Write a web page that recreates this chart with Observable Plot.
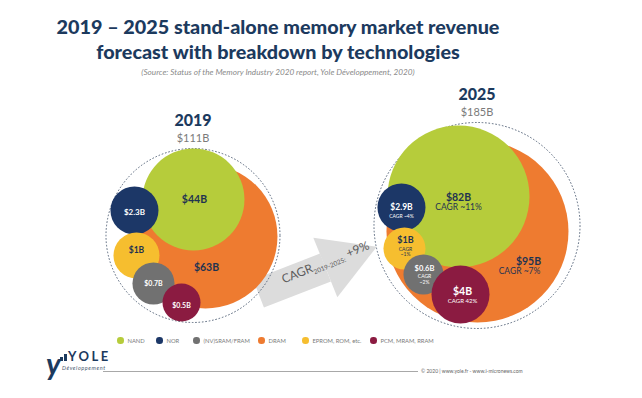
<!DOCTYPE html>
<html>
<head>
<meta charset="utf-8">
<script src="https://cdn.jsdelivr.net/npm/d3@7"></script>
<script src="https://cdn.jsdelivr.net/npm/@observablehq/plot@0.6"></script>
<style>
  body { margin: 0; background: #fff; font-family: Lato, "Open Sans", sans-serif; }
  #page { position: relative; width: 642px; height: 398px; overflow: hidden; background: #fff; }
  #title { position: absolute; left: 0; top: 14px; width: 556px; text-align: center; color: #1c3a5e;
           font-weight: 900; font-size: 19.8px; line-height: 25px; }
  #sub { position: absolute; left: 0; top: 67px; width: 556px; text-align: center; font-style: italic;
         font-size: 8.2px; color: #8a8a8a; }
  #chart { position: absolute; left: 0; top: 80px; }
  #legend { position: absolute; left: 117px; top: 337px; display: flex; align-items: center; }
  #legend .item { display: flex; align-items: center; font-size: 5.8px; color: #7a7a7a; white-space: nowrap; }
  #legend .dot { width: 6.5px; height: 6.5px; border-radius: 50%; margin-right: 4px; flex: none; }
  #logo { position: absolute; left: 44px; top: 346px; width: 70px; height: 42px; color: #1c3a5e; }
  #logo .y { position: absolute; left: 2px; top: 2px; font-size: 30px; font-style: italic; font-weight: 700; line-height: 30px; }
  #logo .bars { position: absolute; left: 16px; top: 8px; display: flex; align-items: flex-end; gap: 1.5px; }
  #logo .bars span { display: block; width: 2.5px; background: #1c3a5e; }
  #logo .name { position: absolute; left: 24px; top: 4px; font-size: 13px; font-weight: 700; letter-spacing: 2.5px; line-height: 13px; }
  #logo .dev { position: absolute; left: 18px; top: 19px; font-size: 5.5px; font-style: italic; letter-spacing: 0.6px; color: #4a5a70; }
  #rule { position: absolute; left: 103px; top: 371px; width: 315px; border-top: 1px solid #a8a8a8; }
  #copy { position: absolute; left: 421px; top: 368px; font-size: 5px; color: #666; white-space: nowrap; }
</style>
</head>
<body>
<div id="page">
  <div id="title">2019 – 2025 stand-alone memory market revenue<br>forecast with breakdown by technologies</div>
  <div id="sub">(Source: Status of the Memory Industry 2020 report, Yole Développement, 2020)</div>
  <div id="chart"></div>
  <div id="legend"></div>
  <div id="logo">
    <div class="y">y</div>
    <div class="bars"><span style="height:4px"></span><span style="height:7px"></span></div>
    <div class="name">YOLE</div>
    <div class="dev">Développement</div>
  </div>
  <div id="rule"></div>
  <div id="copy">© 2020 | www.yole.fr - www.i-micronews.com</div>
</div>
<script>
// ---------------- DATA ----------------
const years = ["2019", "2025"];
const totals = ["$111B", "$185B"];
// drawing order (back to front)
const technologies = ["DRAM", "NAND", "NOR", "EPROM, ROM, etc.", "(NV)SRAM/FRAM", "PCM, MRAM, RRAM"];
const revenue2019 = [63, 44, 2.3, 1, 0.7, 0.5];
const revenue2025 = [95, 82, 2.9, 1, 0.6, 4];
const cagr2025 = ["~7%", "~11%", "~4%", "~1%", "~2%", "42%"];
const overallCagrPeriod = "2019-2025:";
const overallCagr = "+9%";
// legend order
const legendOrder = ["NAND", "NOR", "(NV)SRAM/FRAM", "DRAM", "EPROM, ROM, etc.", "PCM, MRAM, RRAM"];

// ---------------- STYLE / LAYOUT (diagram units) ----------------
const legendColors = ["#b6cc3b", "#1c3767", "#717171", "#ee7b30", "#f6be2f", "#8b1b41"];
const darkText = ["DRAM", "NAND", "EPROM, ROM, etc."];
const S = 4.35;              // px per diagram unit
const W = 642, H = 255;
const groupCenter = [[44.25, 35.63], [109.54, 33.33]];
const groupRadius = [20, 23.68];
const bubbleOffset = [
  [[2.87, 0.23], [0.11, -8.28], [-13.45, -5.75], [-12.99, 4.60], [-9.08, 11.03], [-2.64, 15.40]],
  [[0.11, 1.38], [-4.25, -6.67], [-17.36, -4.14], [-16.67, 5.29], [-12.30, 11.26], [-3.79, 15.86]]
];
const bubbleSize = [
  [16.55, 11.72, 5.52, 5.29, 4.83, 4.37],
  [20.92, 16.32, 5.52, 4.83, 4.60, 6.67]
];
const labelOffset = [
  [[3.10, 7.36], [0.34, -8.28], [-13.45, -5.29], [-12.99, 3.45], [-9.08, 11.03], [-2.64, 16.09]],
  [[11.84, 8.28], [-4.25, -6.44], [-17.36, -4.14], [-16.44, 3.45], [-12.07, 9.89], [-3.33, 15.17]]
];
const labelFont = [
  [10.5, 10.5, 8, 8.5, 7, 7],
  [10.5, 10.5, 8.5, 9, 7.5, 10.5]
];
const cagrOffset = [[9.77, 9.54], [-4.25, -5.17], [-17.36, -2.76], [-16.44, 4.83], [-12.07, 11.15], [-3.33, 16.78]];
const cagrFont = [8.5, 8.5, 5, 5, 5, 6];
const cagrWrap = [false, false, false, true, true, false];
const arrowStart = [59.31, 48.97];
const arrowHeadBase = [74.71, 42.99];
const arrowHead = [78.62, 41.38];
const arrowHeadSize = 5.47;
const arrowAngle = -22;
const arrowLabelPos = [74.71, 41.84];

// ---------------- BUILD ROWS ----------------
const rows = [];
years.forEach((yr, g) => {
  const vals = g === 0 ? revenue2019 : revenue2025;
  const [gx, gy] = groupCenter[g];
  technologies.forEach((t, i) => {
    rows.push({
      year: yr, tech: t, value: vals[i],
      x: gx + bubbleOffset[g][i][0], y: gy + bubbleOffset[g][i][1], size: bubbleSize[g][i],
      lx: gx + labelOffset[g][i][0], ly: gy + labelOffset[g][i][1], lf: labelFont[g][i],
      cagr: g === 1 ? cagr2025[i] : null,
      cx: gx + cagrOffset[i][0], cy: gy + cagrOffset[i][1], cf: cagrFont[i],
      wrap: cagrWrap[i]
    });
  });
});
const groups = years.map((yr, g) => ({year: yr, total: totals[g], x: groupCenter[g][0], y: groupCenter[g][1], size: groupRadius[g]}));
const label = d => "$" + d.value + "B";

const chart = Plot.plot({
  width: W, height: H, margin: 0,
  style: {fontFamily: "Lato, 'Open Sans', sans-serif", background: "transparent", overflow: "visible"},
  x: {domain: [0, W / S], axis: null},
  y: {domain: [0, H / S], reverse: true, axis: null},
  r: {type: "linear", domain: [0, 1], range: [0, S]},
  color: {domain: legendOrder, range: legendColors},
  marks: [
    Plot.link([0], {x1: () => arrowStart[0], y1: () => arrowStart[1], x2: () => arrowHeadBase[0], y2: () => arrowHeadBase[1],
      stroke: "#dcdcdc", strokeWidth: 30, strokeLinecap: "butt"}),
    Plot.dot([0], {x: () => arrowHead[0], y: () => arrowHead[1], r: () => arrowHeadSize, symbol: "triangle",
      rotate: 90 + arrowAngle, fill: "#dcdcdc", stroke: "none"}),
    Plot.text([0], {x: () => arrowLabelPos[0], y: () => arrowLabelPos[1], text: () => "CAGR", rotate: arrowAngle,
      fontSize: 12, fill: "#5a5a5a", textAnchor: "middle"}),
    Plot.dot(groups, {x: "x", y: "y", r: "size", fill: "none", stroke: "#56657a", strokeWidth: 1, strokeDasharray: "1.6,1.8", sort: null}),
    Plot.dot(rows, {x: "x", y: "y", r: "size", fill: "tech", sort: null}),
    Plot.text(rows.filter(d => darkText.includes(d.tech)), {x: "lx", y: "ly", text: label, fontWeight: "bold", fontSize: d => d.lf, fill: "#1f3350"}),
    Plot.text(rows.filter(d => !darkText.includes(d.tech)), {x: "lx", y: "ly", text: label, fontWeight: "bold", fontSize: d => d.lf, fill: "#ffffff"}),
    Plot.text(rows.filter(d => d.cagr && darkText.includes(d.tech)), {x: "cx", y: "cy", text: d => "CAGR" + (d.wrap ? "\n" : " ") + d.cagr,
      lineAnchor: "top", lineHeight: 1.15, fontSize: d => d.cf, fill: "#1f3350"}),
    Plot.text(rows.filter(d => d.cagr && !darkText.includes(d.tech)), {x: "cx", y: "cy", text: d => "CAGR" + (d.wrap ? "\n" : " ") + d.cagr,
      lineAnchor: "top", lineHeight: 1.15, fontSize: d => d.cf, fill: "#ffffff"}),
    Plot.text(groups, {x: "x", y: d => d.y - d.size, text: "year", dy: -28, fontSize: 16, fontWeight: 900, fill: "#1c3a5e"}),
    Plot.text(groups, {x: "x", y: d => d.y - d.size, text: "total", dy: -10, fontSize: 11, fill: "#7a7a7a"})
  ]
});
document.getElementById("chart").appendChild(chart);

// rich arrow label: CAGR with subscript period
const ns = "http://www.w3.org/2000/svg";
const arrowText = Array.from(chart.querySelectorAll("text")).find(t => t.textContent === "CAGR");
if (arrowText) {
  arrowText.textContent = "";
  const parts = [["CAGR", 12, 0], [overallCagrPeriod, 6.5, 3], [" " + overallCagr, 12, -3]];
  parts.forEach(([s, fs, dy]) => {
    const ts = document.createElementNS(ns, "tspan");
    ts.textContent = s;
    ts.setAttribute("font-size", fs);
    if (dy) ts.setAttribute("dy", dy);
    arrowText.appendChild(ts);
  });
}

// legend
const legendWidths = [39, 37, 65, 44, 68, 60];
const legend = document.getElementById("legend");
legendOrder.forEach((name, i) => {
  const item = document.createElement("div");
  item.className = "item";
  item.style.width = legendWidths[i] + "px";
  const dot = document.createElement("span");
  dot.className = "dot";
  dot.style.background = legendColors[i];
  item.appendChild(dot);
  item.appendChild(document.createTextNode(name));
  legend.appendChild(item);
});
</script>
</body>
</html>
